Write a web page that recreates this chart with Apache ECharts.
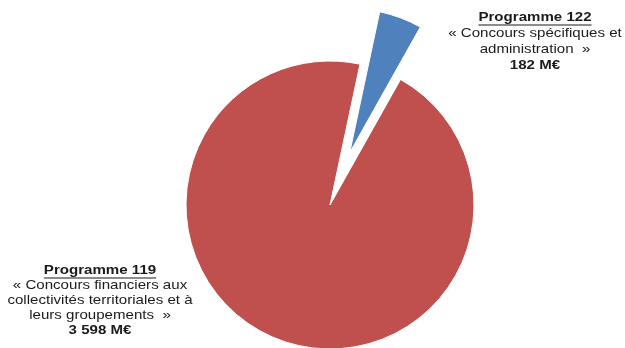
<!DOCTYPE html>
<html>
<head>
<meta charset="utf-8">
<script src="https://cdn.jsdelivr.net/npm/echarts@6/dist/echarts.min.js"></script>
<style>
  html, body { margin: 0; padding: 0; background: #fff; }
  #chart { width: 625px; height: 348px; }
</style>
</head>
<body>
<div id="chart"></div>
<script>
// Budget split between the two programmes (M€)
const programmes = ['Programme 122', 'Programme 119'];
const descriptions = [
  ['« Concours spécifiques et', 'administration  »'],
  ['« Concours financiers aux', 'collectivités territoriales et à', 'leurs groupements  »']
];
const amounts = [182, 3598];
const amountLabels = ['182 M€', '3 598 M€'];
const colors = ['#4F81BD', '#C0504D'];

const FONT = '"Liberation Sans", Arial, sans-serif';
const FONT_SIZE = 13;
const TEXT_COLOR = '#1b1b1b';
const STRETCH = 1.16;          // slightly wide lettering

// Text block placement for each slice: centre x, first line middle y, line step
const labelBoxes = [
  { x: 535, y: 17.5, step: 16 },
  { x: 100, y: 270.5, step: 15 }
];

const chart = echarts.init(document.getElementById('chart'), null, { renderer: 'canvas' });

const data = programmes.map((name, i) => ({
  name: name,
  value: amounts[i],
  selected: i === 0,
  itemStyle: { color: colors[i] }
}));

const ctx = document.createElement('canvas').getContext('2d');
ctx.font = 'bold ' + FONT_SIZE + 'px ' + FONT;

function textLine(str, x, y, bold) {
  return {
    type: 'text',
    silent: true,
    x: x,
    y: y,
    scaleX: STRETCH,
    style: {
      text: str,
      fill: TEXT_COLOR,
      font: (bold ? 'bold ' : '') + FONT_SIZE + 'px ' + FONT,
      align: 'center',
      verticalAlign: 'middle'
    }
  };
}

const graphics = [];
programmes.forEach((name, i) => {
  const box = labelBoxes[i];
  const lines = [{ t: name, b: true }]
    .concat(descriptions[i].map(d => ({ t: d, b: false })))
    .concat([{ t: amountLabels[i], b: true }]);
  lines.forEach((ln, k) => {
    graphics.push(textLine(ln.t, box.x, box.y + k * box.step, ln.b));
  });
  // underline beneath the programme title
  const w = ctx.measureText(name).width * STRETCH;
  const uy = box.y + 7.5;
  graphics.push({
    type: 'line',
    silent: true,
    shape: { x1: box.x - w / 2, y1: uy, x2: box.x + w / 2, y2: uy },
    style: { stroke: TEXT_COLOR, lineWidth: 1.2 }
  });
});

chart.setOption({
  animation: false,
  backgroundColor: '#fff',
  graphic: graphics,
  series: [{
    type: 'pie',
    center: [330, 205],
    radius: 144,
    startAngle: 78,
    clockwise: true,
    selectedMode: 'single',
    selectedOffset: 56,
    itemStyle: { borderColor: '#fff', borderWidth: 1 },
    emphasis: { disabled: true },
    label: { show: false },
    labelLine: { show: false },
    data: data
  }]
});
</script>
</body>
</html>
